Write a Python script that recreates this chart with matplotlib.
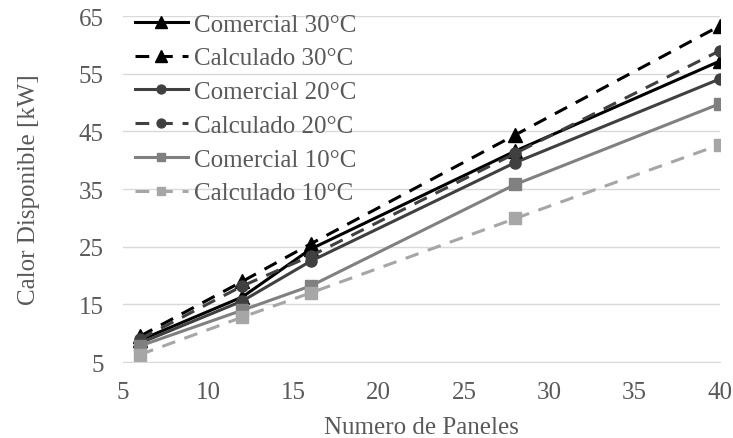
import matplotlib
matplotlib.use("Agg")
import matplotlib.pyplot as plt

paneles = [6, 12, 16, 28, 40]
comercial_30 = [8.8, 16.3, 24.6, 41.6, 57.2]
calculado_30 = [9.5, 19.0, 25.5, 44.4, 63.3]
comercial_20 = [8.3, 15.6, 22.5, 39.6, 54.1]
calculado_20 = [9.0, 18.2, 23.4, 41.2, 59.0]
comercial_10 = [7.8, 14.0, 18.2, 35.8, 49.8]
calculado_10 = [6.3, 12.8, 17.0, 29.9, 42.7]

plt.rcParams['font.family'] = ['Liberation Serif', 'DejaVu Serif']

fig = plt.figure(figsize=(7.33, 4.39), dpi=100)
ax = fig.add_axes([0.168, 0.173, 0.814, 0.788])

dash = (0, (4.5, 3.2))
series = [
    ("Comercial 30°C", comercial_30, "#000000", "-", "^", 10),
    ("Calculado 30°C", calculado_30, "#000000", dash, "^", 10),
    ("Comercial 20°C", comercial_20, "#404040", "-", "o", 8),
    ("Calculado 20°C", calculado_20, "#404040", dash, "o", 8),
    ("Comercial 10°C", comercial_10, "#808080", "-", "s", 8),
    ("Calculado 10°C", calculado_10, "#a6a6a6", dash, "s", 8),
]
for label, vals, col, ls, mk, ms in series:
    ax.plot(paneles, vals, color=col, linestyle=ls, linewidth=2.2,
            marker=mk, markersize=ms, label=label)

ax.set_xlim(5, 40)
ax.set_ylim(5, 65)
ax.set_xticks([5, 10, 15, 20, 25, 30, 35, 40])
ax.set_yticks([5, 15, 25, 35, 45, 55, 65])
ax.grid(axis='y', color='#d9d9d9', linewidth=1)
ax.set_axisbelow(True)
for s in ['top', 'right', 'left']:
    ax.spines[s].set_visible(False)
ax.spines['bottom'].set_color('#d9d9d9')
ax.tick_params(axis='y', length=0, labelsize=18, colors='#595959', pad=14)
ax.tick_params(axis='x', length=0, labelsize=18, colors='#595959', pad=14)

ax.set_xlabel("Numero de Paneles", fontsize=18, color='#595959', labelpad=9)
ax.set_ylabel("Calor Disponible [kW]", fontsize=18, color='#595959', labelpad=28)

leg = ax.legend(loc='upper left', bbox_to_anchor=(-0.005, 1.052), frameon=False,
                fontsize=18, handlelength=2.1, labelspacing=0.45,
                handletextpad=0.25, borderaxespad=0.2, markerscale=0.8)
for t in leg.get_texts():
    t.set_color('#595959')

fig.savefig("out.png", dpi=100)
